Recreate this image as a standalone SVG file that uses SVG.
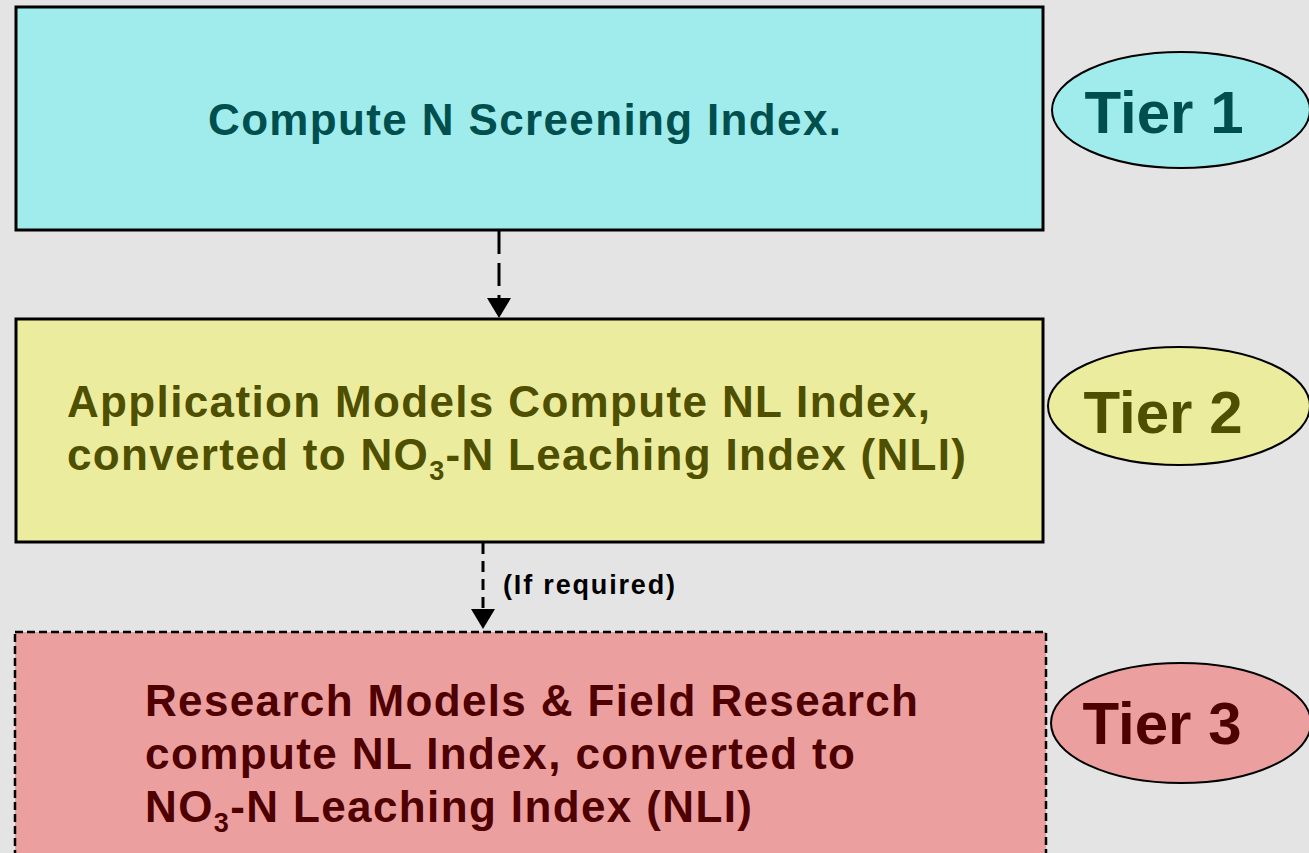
<svg xmlns="http://www.w3.org/2000/svg" width="1309" height="853" viewBox="0 0 1309 853">
<style>
.box{stroke:#000;stroke-width:3}
.t{font-family:"Liberation Sans",Arial,sans-serif;font-weight:bold;font-size:44px}
.tier{font-family:"Liberation Sans",Arial,sans-serif;font-weight:bold;font-size:60px;text-anchor:middle}
.ell{stroke:#000;stroke-width:2}
.conn{stroke:#000;stroke-width:3;fill:none}
.lbl{font-family:"Liberation Sans",Arial,sans-serif;font-weight:bold;font-size:27px;fill:#000}
</style>
<defs>
<marker id="ah" markerUnits="userSpaceOnUse" markerWidth="20" markerHeight="24" refX="0" refY="12" orient="auto">
<path d="M0,0 L20,12 L0,24 z" fill="#000" stroke="none"/>
</marker>
</defs>
<rect x="0" y="0" width="1309" height="853" fill="#e4e4e4"/>
<g id="tier1-box">
<rect class="box" x="16" y="7" width="1027" height="223" fill="#a0ecec"/>
<text class="t" x="208" y="135" fill="#004f4f" textLength="633" lengthAdjust="spacing">Compute N Screening Index.</text>
</g>
<g id="tier1-label">
<ellipse class="ell" cx="1181" cy="110" rx="129" ry="58" fill="#a0ecec"/>
<text class="tier" x="1164" y="133" fill="#004f4f">Tier 1</text>
</g>
<g id="tier2-box">
<rect class="box" x="16" y="319" width="1027" height="223" fill="#ecec9e"/>
<text class="t" x="67" y="417" fill="#4f4f00" textLength="863" lengthAdjust="spacing">Application Models Compute NL Index,</text>
<text class="t" x="67" y="470" fill="#4f4f00" textLength="899" lengthAdjust="spacing">converted to NO<tspan font-size="27" dy="10">3</tspan><tspan dy="-10">-N Leaching Index (NLI)</tspan></text>
</g>
<g id="tier2-label">
<ellipse class="ell" cx="1179" cy="406" rx="131" ry="59" fill="#ecec9e"/>
<text class="tier" x="1163" y="433" fill="#4f4f00">Tier 2</text>
</g>
<g id="tier3-box">
<rect x="15" y="632" width="1031" height="240" fill="#ec9f9f" stroke="#000" stroke-width="2.5" stroke-dasharray="8 4"/>
<text class="t" x="145" y="716" fill="#4f0000" textLength="773" lengthAdjust="spacing">Research Models &amp; Field Research</text>
<text class="t" x="145" y="769" fill="#4f0000" textLength="710" lengthAdjust="spacing">compute NL Index, converted to</text>
<text class="t" x="145" y="822" fill="#4f0000" textLength="607" lengthAdjust="spacing">NO<tspan font-size="27" dy="10">3</tspan><tspan dy="-10">-N Leaching Index (NLI)</tspan></text>
</g>
<g id="tier3-label">
<ellipse class="ell" cx="1181" cy="723" rx="130" ry="60" fill="#ec9f9f"/>
<text class="tier" x="1162" y="744" fill="#4f0000">Tier 3</text>
</g>
<g id="connectors">
<line class="conn" x1="499" y1="231" x2="499" y2="298" stroke-dasharray="23 9" marker-end="url(#ah)"/>
<line class="conn" x1="483" y1="543" x2="483" y2="609" stroke-dasharray="11 7" marker-end="url(#ah)"/>
<text class="lbl" x="503" y="594" textLength="172" lengthAdjust="spacing">(If required)</text>
</g>
</svg>
